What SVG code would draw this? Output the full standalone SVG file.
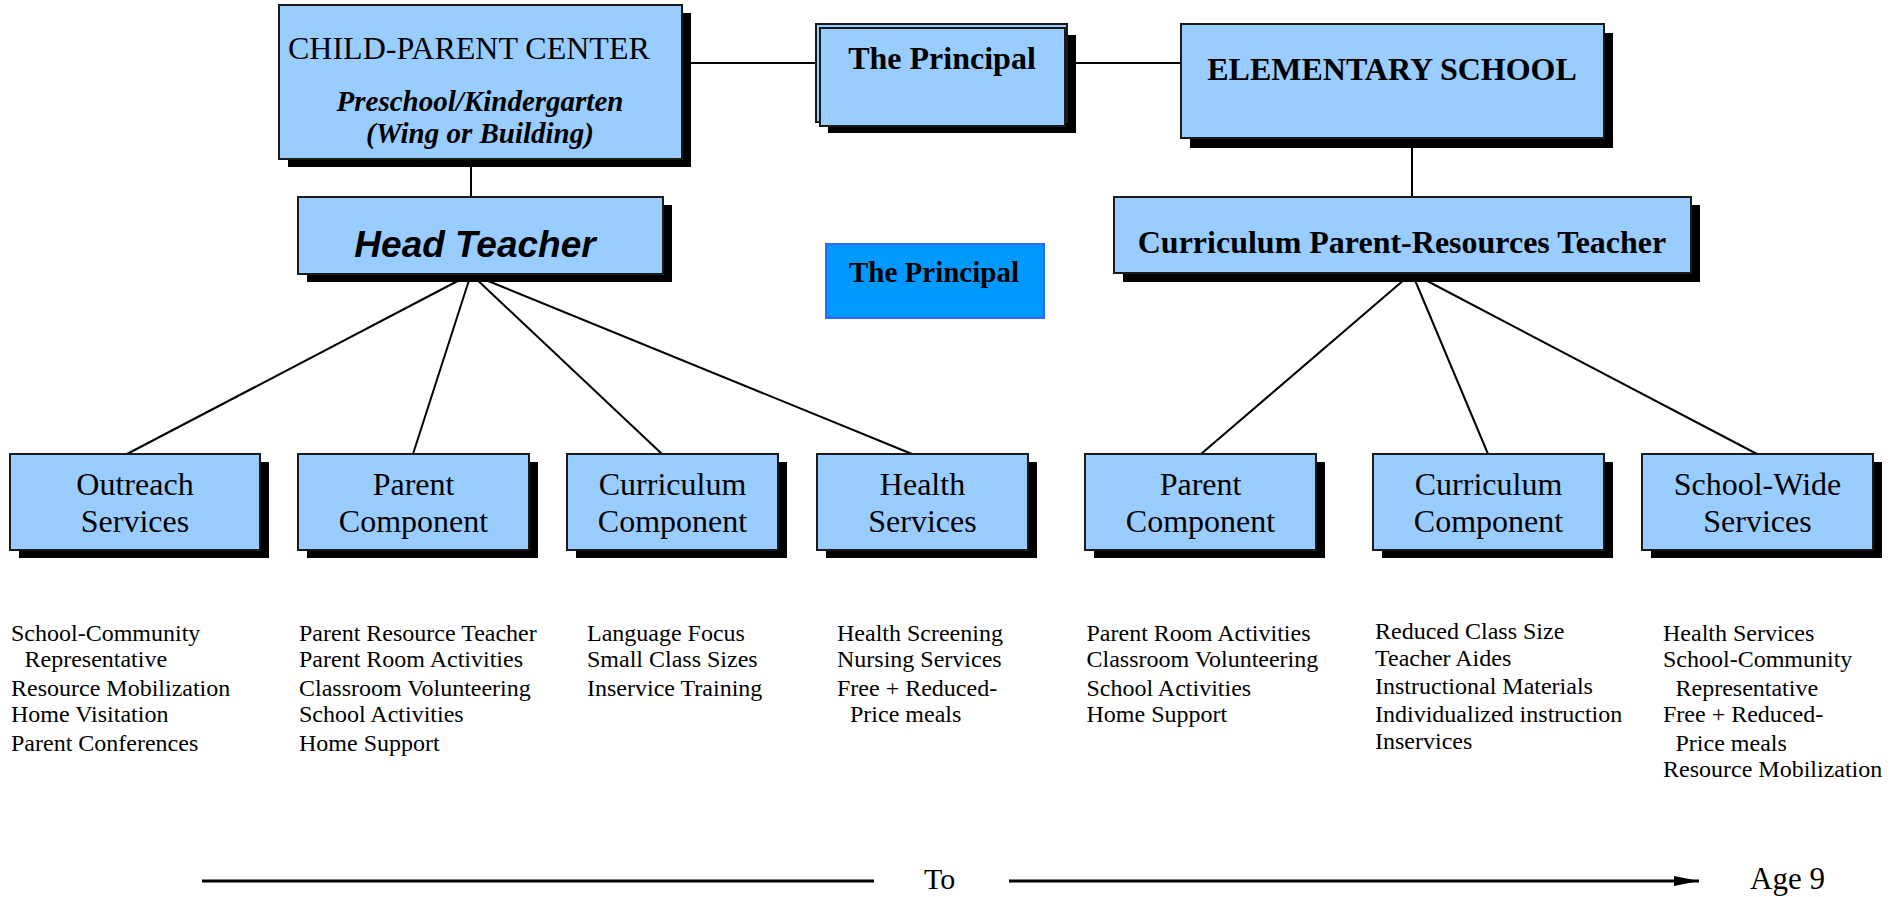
<svg xmlns="http://www.w3.org/2000/svg" width="1904" height="897" viewBox="0 0 1904 897">
<defs>
<style>
.box{fill:#99CCFF;stroke:#1a1a1a;stroke-width:2}
.sh{fill:#000}
.conn{stroke:#000;stroke-width:2;fill:none}
.t{font-family:"Liberation Serif","Times New Roman",serif;fill:#000}
.lbl{font-size:32px;text-anchor:middle}
.bold{font-weight:bold}
.list{font-size:24px}
</style>
<marker id="arr" markerWidth="26" markerHeight="12" refX="25" refY="6" orient="auto" markerUnits="userSpaceOnUse">
<path d="M0,1 L25,6 L0,11 Z" fill="#000"/>
</marker>
</defs>
<rect width="1904" height="897" fill="#fff"/>

<g id="connectors">
<line class="conn" x1="682" y1="63" x2="816" y2="63"/>
<line class="conn" x1="1067" y1="63" x2="1181" y2="63"/>
<line class="conn" x1="471" y1="159" x2="471" y2="197"/>
<line class="conn" x1="1412" y1="138" x2="1412" y2="197"/>
<line class="conn" x1="471" y1="274" x2="127" y2="454"/>
<line class="conn" x1="471" y1="274" x2="413" y2="454"/>
<line class="conn" x1="471" y1="274" x2="662" y2="454"/>
<line class="conn" x1="471" y1="274" x2="912" y2="454"/>
<line class="conn" x1="1412" y1="273" x2="1201" y2="454"/>
<line class="conn" x1="1412" y1="273" x2="1488" y2="454"/>
<line class="conn" x1="1412" y1="273" x2="1757" y2="454"/>
</g>

<g id="child-parent-center">
<rect class="sh" x="288" y="13" width="403" height="154"/>
<rect class="box" x="279" y="5" width="403" height="154"/>
<text class="t" x="288" y="59" font-size="32">CHILD-PARENT CENTER</text>
<text class="t bold" x="480" y="111" font-size="29" font-style="italic" text-anchor="middle">Preschool/Kindergarten</text>
<text class="t bold" x="480" y="143" font-size="29" font-style="italic" text-anchor="middle">(Wing or Building)</text>
</g>

<g id="principal-top">
<rect class="sh" x="828" y="35" width="248" height="98"/>
<rect class="box" x="816" y="24" width="251" height="98"/>
<rect class="box" x="820" y="28" width="245" height="98"/>
<text class="t bold lbl" x="942" y="69" font-size="31.5">The Principal</text>
</g>

<g id="elementary-school">
<rect class="sh" x="1190" y="33" width="423" height="115"/>
<rect class="box" x="1181" y="24" width="423" height="114"/>
<text class="t bold lbl" x="1392" y="80">ELEMENTARY SCHOOL</text>
</g>

<g id="head-teacher">
<rect class="sh" x="307" y="205" width="365" height="77"/>
<rect class="box" x="298" y="197" width="365" height="77"/>
<text x="475" y="257" font-family="'Liberation Sans',Arial,sans-serif" font-weight="bold" font-style="italic" font-size="37" text-anchor="middle">Head Teacher</text>
</g>

<g id="cprt">
<rect class="sh" x="1123" y="205" width="577" height="77"/>
<rect class="box" x="1114" y="197" width="577" height="76"/>
<text class="t bold lbl" x="1402" y="253">Curriculum Parent-Resources Teacher</text>
</g>

<g id="principal-middle">
<rect x="826" y="244" width="218" height="74" fill="#0099FF" stroke="#3366FF" stroke-width="2"/>
<text class="t bold" x="934" y="282" font-size="29" text-anchor="middle">The Principal</text>
</g>

<g id="outreach">
<rect class="sh" x="19" y="462" width="250" height="96"/>
<rect class="box" x="10" y="454" width="250" height="96"/>
<text class="t lbl" x="135" y="495">Outreach</text>
<text class="t lbl" x="135" y="532">Services</text>
</g>
<g id="parent-left">
<rect class="sh" x="307" y="462" width="231" height="96"/>
<rect class="box" x="298" y="454" width="231" height="96"/>
<text class="t lbl" x="413.5" y="495">Parent</text>
<text class="t lbl" x="413.5" y="532">Component</text>
</g>
<g id="curriculum-left">
<rect class="sh" x="576" y="462" width="211" height="96"/>
<rect class="box" x="567" y="454" width="211" height="96"/>
<text class="t lbl" x="672.5" y="495">Curriculum</text>
<text class="t lbl" x="672.5" y="532">Component</text>
</g>
<g id="health">
<rect class="sh" x="826" y="462" width="211" height="96"/>
<rect class="box" x="817" y="454" width="211" height="96"/>
<text class="t lbl" x="922.5" y="495">Health</text>
<text class="t lbl" x="922.5" y="532">Services</text>
</g>
<g id="parent-right">
<rect class="sh" x="1094" y="462" width="231" height="96"/>
<rect class="box" x="1085" y="454" width="231" height="96"/>
<text class="t lbl" x="1200.5" y="495">Parent</text>
<text class="t lbl" x="1200.5" y="532">Component</text>
</g>
<g id="curriculum-right">
<rect class="sh" x="1382" y="462" width="231" height="96"/>
<rect class="box" x="1373" y="454" width="231" height="96"/>
<text class="t lbl" x="1488.5" y="495">Curriculum</text>
<text class="t lbl" x="1488.5" y="532">Component</text>
</g>
<g id="school-wide">
<rect class="sh" x="1651" y="462" width="231" height="96"/>
<rect class="box" x="1642" y="454" width="231" height="96"/>
<text class="t lbl" x="1757.5" y="495">School-Wide</text>
<text class="t lbl" x="1757.5" y="532">Services</text>
</g>

<g id="lists" class="t list">
<text x="11" y="641">School-Community</text>
<text x="24.5" y="667">Representative</text>
<text x="11" y="696">Resource Mobilization</text>
<text x="11" y="722">Home Visitation</text>
<text x="11" y="751">Parent Conferences</text>

<text x="299" y="641">Parent Resource Teacher</text>
<text x="299" y="667">Parent Room Activities</text>
<text x="299" y="696">Classroom Volunteering</text>
<text x="299" y="722">School Activities</text>
<text x="299" y="751">Home Support</text>

<text x="587" y="641">Language Focus</text>
<text x="587" y="667">Small Class Sizes</text>
<text x="587" y="696">Inservice Training</text>

<text x="837" y="641">Health Screening</text>
<text x="837" y="667">Nursing Services</text>
<text x="837" y="696">Free + Reduced-</text>
<text x="850" y="722">Price meals</text>

<text x="1086.5" y="641">Parent Room Activities</text>
<text x="1086.5" y="667">Classroom Volunteering</text>
<text x="1086.5" y="696">School Activities</text>
<text x="1086.5" y="722">Home Support</text>

<text x="1375" y="639">Reduced Class Size</text>
<text x="1375" y="666">Teacher Aides</text>
<text x="1375" y="694">Instructional Materials</text>
<text x="1375" y="722">Individualized instruction</text>
<text x="1375" y="749">Inservices</text>

<text x="1663" y="641">Health Services</text>
<text x="1663" y="667">School-Community</text>
<text x="1675.5" y="696">Representative</text>
<text x="1663" y="722">Free + Reduced-</text>
<text x="1675.5" y="751">Price meals</text>
<text x="1663" y="777">Resource Mobilization</text>
</g>

<g id="timeline">
<line x1="202" y1="881" x2="874" y2="881" stroke="#000" stroke-width="3"/>
<line x1="1009" y1="881" x2="1699" y2="881" stroke="#000" stroke-width="3" marker-end="url(#arr)"/>
<text class="t" x="924" y="889" font-size="30">To</text>
<text class="t" x="1750" y="889" font-size="31">Age 9</text>
</g>
</svg>
